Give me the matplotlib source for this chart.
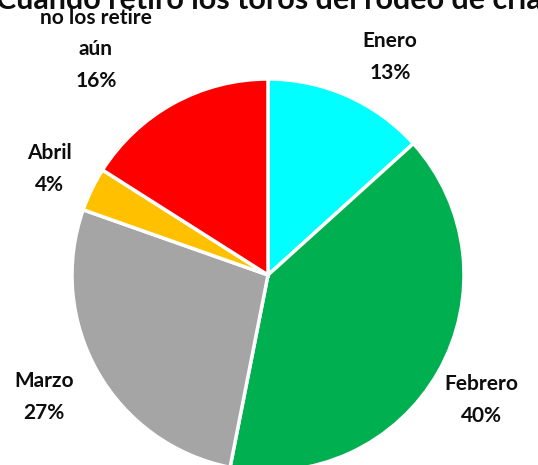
import numpy as np
import matplotlib
matplotlib.use("Agg")
import matplotlib.pyplot as plt

title = "Cuando retiro los toros del rodeo de cría"
categories = ["Enero", "Febrero", "Marzo", "Abril", "no los retire\naún"]
values = [13.3, 39.8, 27.3, 3.6, 16.0]
colors = ["#00FFFF", "#00B050", "#A5A5A5", "#FFC000", "#FF0000"]
label_dist = [1.275, 1.264, 1.30, 1.239, 1.449]
label_shift = [-5.3, -0.8, -1.1, 0.0, 8.5]

plt.rcParams['font.family'] = ['Lato', 'DejaVu Sans']

W, H = 538, 465
fig = plt.figure(figsize=(W / 100, H / 100), dpi=100)
cx, cy, R = 268, 275, 196
ax = fig.add_axes([(cx - R) / W, (H - cy - R) / H, 2 * R / W, 2 * R / H])

wedges, _ = ax.pie(values, colors=colors, startangle=90, counterclock=False,
                   radius=1, wedgeprops=dict(edgecolor="white", linewidth=2.5))
ax.set_xlim(-1, 1)
ax.set_ylim(-1, 1)
ax.set_aspect("equal")
ax.axis("off")

total = sum(values)
for w, cat, v, d, s in zip(wedges, categories, values, label_dist, label_shift):
    ang = np.deg2rad((w.theta1 + w.theta2) / 2 + s)
    x, y = d * np.cos(ang), d * np.sin(ang)
    ax.text(x, y, f"{cat}\n{v / total * 100:.0f}%", ha="center", va="center",
            fontsize=15, fontweight="bold", color="#0d0d0d", linespacing=1.72,
            clip_on=False)

fig.text(0.5, 1 - 9 / H, title, ha="center", va="baseline",
         fontsize=22, fontweight="bold", color="#0d0d0d")

fig.savefig("out.png", dpi=100)
